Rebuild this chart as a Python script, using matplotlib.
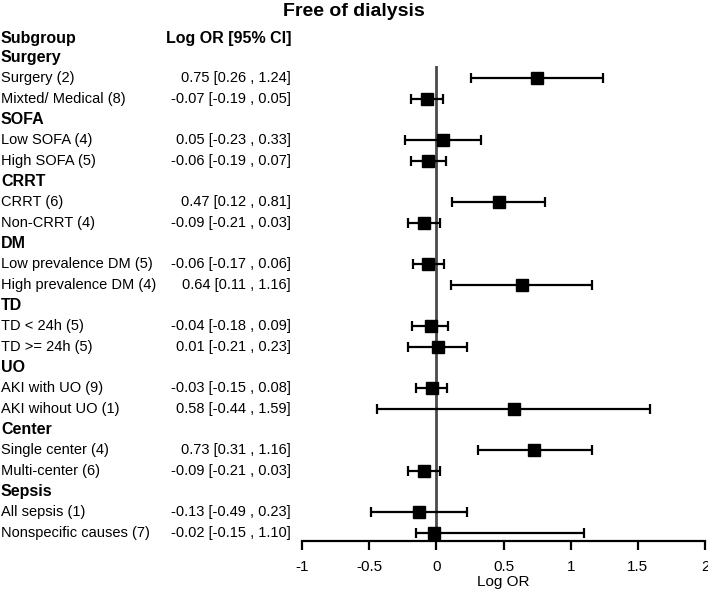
import matplotlib
matplotlib.use("Agg")
import matplotlib.pyplot as plt
from matplotlib.transforms import blended_transform_factory

plt.rcParams['font.family'] = ['Liberation Sans', 'DejaVu Sans']

groups = ["Surgery", "SOFA", "CRRT", "DM", "TD", "UO", "Center", "Sepsis"]
subgroups = [
    ["Surgery (2)", "Mixted/ Medical (8)"],
    ["Low SOFA (4)", "High SOFA (5)"],
    ["CRRT (6)", "Non-CRRT (4)"],
    ["Low prevalence DM (5)", "High prevalence DM (4)"],
    ["TD < 24h (5)", "TD >= 24h (5)"],
    ["AKI with UO (9)", "AKI wihout UO (1)"],
    ["Single center (4)", "Multi-center (6)"],
    ["All sepsis (1)", "Nonspecific causes (7)"],
]
estimates = [0.75, -0.07, 0.05, -0.06, 0.47, -0.09, -0.06, 0.64,
             -0.04, 0.01, -0.03, 0.58, 0.73, -0.09, -0.13, -0.02]
lower = [0.26, -0.19, -0.23, -0.19, 0.12, -0.21, -0.17, 0.11,
         -0.18, -0.21, -0.15, -0.44, 0.31, -0.21, -0.49, -0.15]
upper = [1.24, 0.05, 0.33, 0.07, 0.81, 0.03, 0.06, 1.16,
         0.09, 0.23, 0.08, 1.59, 1.16, 0.03, 0.23, 1.10]
xticks = [-1, -0.5, 0, 0.5, 1, 1.5, 2]
xticklabels = ["-1", "-0.5", "0", "0.5", "1", "1.5", "2"]

W, H = 708, 591
fig = plt.figure(figsize=(W / 100, H / 100), dpi=100)
ax = fig.add_axes([302 / W, (H - 541) / H, (705 - 302) / W, (541 - 66) / H])

row0 = 36.5
step = 20.68
ax.set_ylim((541 - row0) / step, (66 - row0) / step)
ax.set_xlim(-1, 2)

trans = blended_transform_factory(fig.transFigure, ax.transData)

fs = 10.5
fig.text(1 / W, 0.1, "Subgroup", transform=trans, ha='left', va='center',
         fontsize=11.5, fontweight='bold')
fig.text(291 / W, 0.1, "Log OR [95% CI]", transform=trans, ha='right', va='center',
         fontsize=11.5, fontweight='bold')

row = 1
k = 0
ys, xs, los, his = [], [], [], []
for g, subs in zip(groups, subgroups):
    fig.text(1 / W, row, g, transform=trans, ha='left', va='center',
             fontsize=11.5, fontweight='bold')
    row += 1
    for s in subs:
        e, lo, hi = estimates[k], lower[k], upper[k]
        fig.text(1 / W, row, s, transform=trans, ha='left', va='center', fontsize=fs)
        fig.text(291 / W, row, f"{e:.2f} [{lo:.2f} , {hi:.2f}]", transform=trans,
                 ha='right', va='center', fontsize=fs)
        ys.append(row)
        xs.append(e)
        los.append(e - lo)
        his.append(hi - e)
        row += 1
        k += 1

ax.axvline(0, color='#4a4a4a', lw=2, zorder=1)
ax.errorbar(xs, ys, xerr=[los, his], fmt='s', color='black', ecolor='black',
            markersize=8, elinewidth=1.6, capsize=3.5, capthick=1.6, zorder=3)

for sp in ['top', 'right', 'left']:
    ax.spines[sp].set_visible(False)
ax.spines['bottom'].set_linewidth(1.6)
ax.set_yticks([])
ax.set_xticks(xticks)
ax.set_xticklabels(xticklabels, fontsize=11)
ax.tick_params(axis='x', direction='out', length=6.5, width=1.6, pad=7)
ax.set_xlabel("Log OR", fontsize=11, labelpad=1)

fig.text(0.5, 1 - 12 / H, "Free of dialysis", ha='center', va='center',
         fontsize=14, fontweight='bold')

fig.savefig("out.png", dpi=100)
